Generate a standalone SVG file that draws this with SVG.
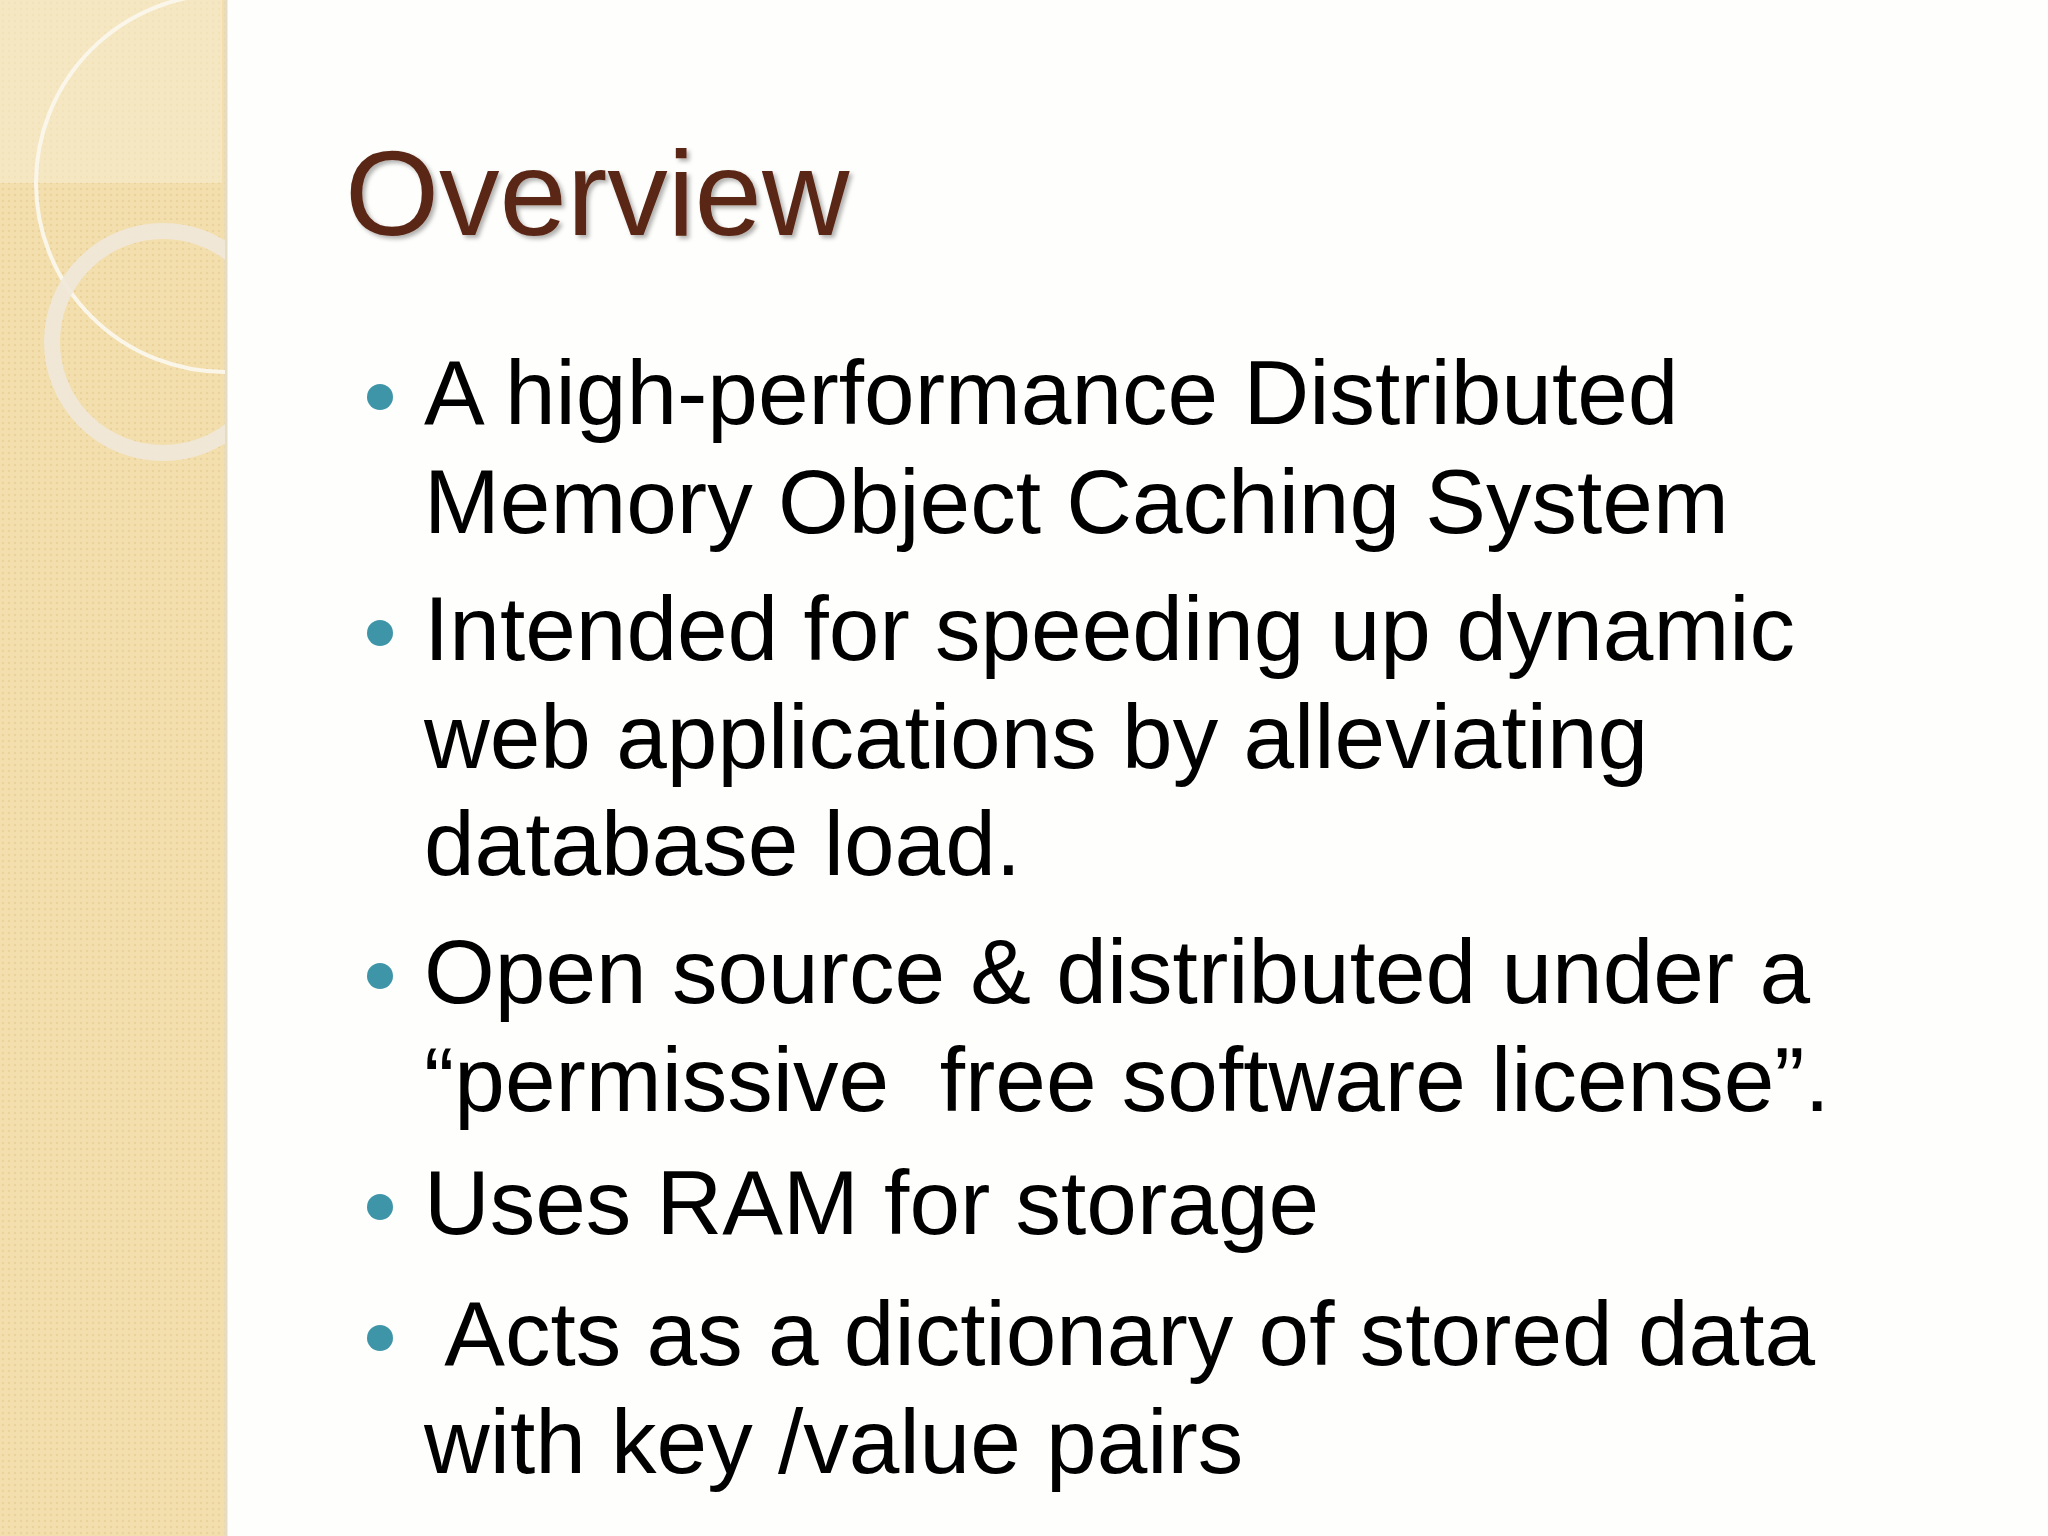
<svg xmlns="http://www.w3.org/2000/svg" width="2048" height="1536" viewBox="0 0 2048 1536">
<defs>
<pattern id="dots" width="6" height="6" patternUnits="userSpaceOnUse"><rect width="6" height="6" fill="#f3dfad"/><circle cx="3" cy="3" r="1.2" fill="#ead29a"/></pattern>
<filter id="sh" x="-5%" y="-5%" width="110%" height="120%"><feDropShadow dx="3" dy="3" stdDeviation="2" flood-color="#000" flood-opacity="0.3"/></filter>
<clipPath id="cp"><rect width="225" height="1536"/></clipPath>
</defs>
<style>
.b{font-family:"Liberation Sans",Arial,sans-serif;font-size:91px;fill:#000}
.d{fill:#3f95a8}
</style>
<rect width="2048" height="1536" fill="#fefefc"/>
<g id="strip">
<rect width="225" height="1536" fill="url(#dots)"/>
<rect width="222" height="183" fill="#f7ecd0" opacity="0.6"/>
<line x1="226" y1="0" x2="226" y2="1536" stroke="#e6dcc4" stroke-width="3"/>
<g clip-path="url(#cp)">
<circle cx="225" cy="183" r="189" fill="none" stroke="#fbf6ea" stroke-width="4"/>
<circle cx="163" cy="342" r="111" fill="none" stroke="#efe8da" stroke-width="16" opacity="0.9"/>
</g>
</g>
<g id="title"><text x="345" y="235" font-family="Liberation Sans,Arial,sans-serif" font-size="121" fill="#5a2616" filter="url(#sh)">Overview</text></g>
<g id="bullets">
<circle class="d" cx="380" cy="397" r="13"/>
<text class="b" x="424" y="424">A high-performance Distributed</text>
<text class="b" x="424" y="533">Memory Object Caching System</text>
<circle class="d" cx="380" cy="633" r="13"/>
<text class="b" x="424" y="660">Intended for speeding up dynamic</text>
<text class="b" x="424" y="768">web applications by alleviating</text>
<text class="b" x="424" y="875">database load.</text>
<circle class="d" cx="380" cy="976" r="13"/>
<text class="b" x="424" y="1003">Open source &amp; distributed under a</text>
<text class="b" x="424" y="1111" xml:space="preserve">“permissive  free software license”.</text>
<circle class="d" cx="380" cy="1207" r="13"/>
<text class="b" x="424" y="1234">Uses RAM for storage</text>
<circle class="d" cx="380" cy="1338" r="13"/>
<text class="b" x="424" y="1365" xml:space="preserve"> Acts as a dictionary of stored data</text>
<text class="b" x="424" y="1473">with key /value pairs</text>
</g>
</svg>
